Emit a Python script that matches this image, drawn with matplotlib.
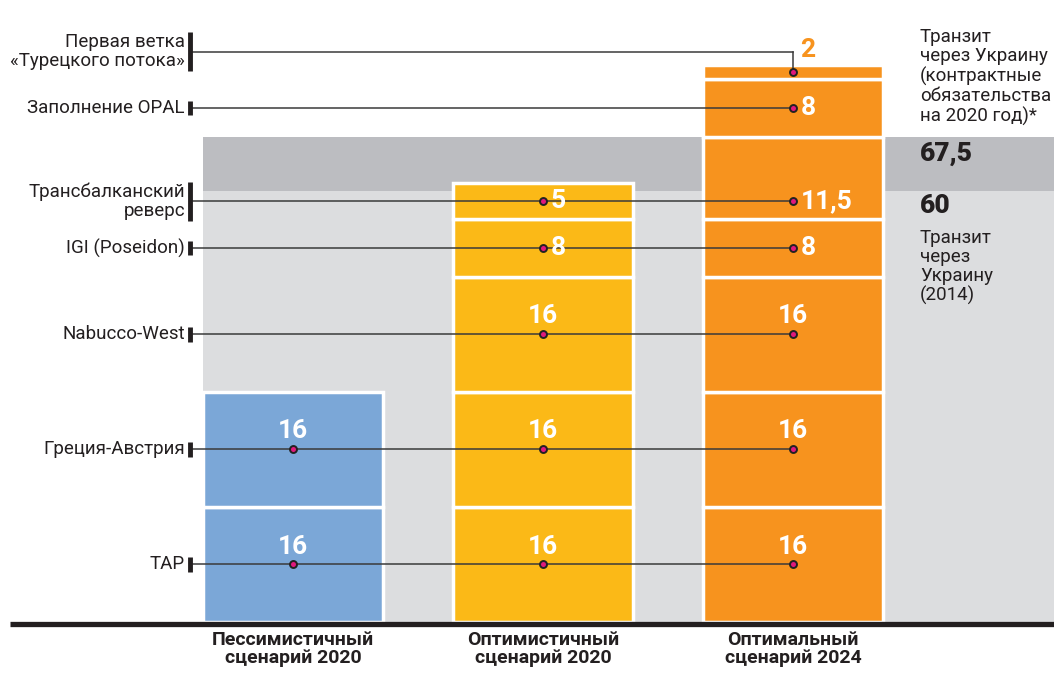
import matplotlib
matplotlib.use('Agg')
import matplotlib.pyplot as plt

plt.rcParams['font.family'] = ['Roboto', 'DejaVu Sans']

# данные
scenarios = ['Пессимистичный\nсценарий 2020', 'Оптимистичный\nсценарий 2020', 'Оптимальный\nсценарий 2024']
routes = ['TAP', 'Греция-Австрия', 'Nabucco-West', 'IGI (Poseidon)',
          'Трансбалканский\nреверс', 'Заполнение OPAL', 'Первая ветка\n«Турецкого потока»']
pessimistic = [16, 16, 0, 0, 0, 0, 0]
optimistic = [16, 16, 16, 8, 5, 0, 0]
optimal = [16, 16, 16, 8, 11.5, 8, 2]
transit_2014 = 60
transit_2020 = 67.5

volumes = [pessimistic, optimistic, optimal]
colors = ['#7ba7d7', '#fbb917', '#f7931e']
grey_light = '#dcdddf'
grey_dark = '#bcbdc1'
line_col = '#3a3a3a'
ink = '#231f20'

fig = plt.figure(figsize=(10.54, 6.74), dpi=100)
ax = fig.add_axes([0, 0, 1, 1])
ax.set_xlim(-1.172, 3.044)
ax.set_ylim(-7.23, 86.5)
ax.axis('off')

width = 0.72
x = list(range(len(scenarios)))

# фон: транзит через Украину
x0 = x[0] - width / 2
ax.fill_between([x0, 3.1], 0, transit_2014, color=grey_light, lw=0, zorder=0)
ax.fill_between([x0, 3.1], transit_2014, transit_2020, color=grey_dark, lw=0, zorder=0)

# столбцы
centers = {}
for i, vals in enumerate(volumes):
    bottom = 0
    for j, v in enumerate(vals):
        if v == 0:
            continue
        ax.bar(x[i], v, width, bottom=bottom, color=colors[i], edgecolor='white', lw=2.5, zorder=2)
        centers[(i, j)] = bottom + v / 2
        bottom += v

# линии-выноски
label_x = -0.432
tick_x = -0.412
for j, name in enumerate(routes):
    used = [i for i in x if volumes[i][j] > 0]
    first, last = used[0], used[-1]
    seg = volumes[first][j]
    if seg < 3:
        top = sum(volumes[first][:j + 1])
        ly = top + 1.8
    else:
        ly = centers[(first, j)]
    ax.plot([tick_x, x[last]], [ly, ly], color=line_col, lw=1.1, zorder=4)
    if seg < 3:
        ax.plot([x[last], x[last]], [ly, centers[(last, j)]], color=line_col, lw=1.1, zorder=4)
    h = 2.7 if '\n' in name else 1.0
    ax.plot([tick_x, tick_x], [ly - h, ly + h], color=ink, lw=3.5, solid_capstyle='butt', zorder=5)
    ax.text(label_x, ly, name, ha='right', va='center', fontsize=13.5, color=ink, linespacing=1.1)

    for i in used:
        v = volumes[i][j]
        txt = ('%g' % v).replace('.', ',')
        cy = centers[(i, j)]
        dot_y = cy if seg >= 6 or seg < 3 else ly
        ax.plot(x[i], dot_y, 'o', ms=5, mfc='#e0197d', mec='#222222', mew=1.4, zorder=6)
        if v >= 16:
            ax.text(x[i], cy + 2.5, txt, ha='center', va='center', fontsize=19,
                    fontweight='bold', color='white', zorder=6)
        elif seg < 3:
            ax.text(x[i] + 0.03, ly + 0.3, txt, ha='left', va='center', fontsize=19,
                    fontweight='bold', color=colors[i], zorder=6)
        else:
            ax.text(x[i] + 0.03, dot_y, txt, ha='left', va='center', fontsize=19,
                    fontweight='bold', color='white', zorder=6)

# базовая линия
ax.plot([-1.132, 3.1], [-0.3, -0.3], color=ink, lw=3.8, solid_capstyle='butt', zorder=7)

# подписи сценариев
for i, s in enumerate(scenarios):
    ax.text(x[i], -3.75, s, ha='center', va='center', fontsize=14, fontweight='bold',
            color=ink, linespacing=1.05)

# подписи справа
rx = 2.508
ax.text(rx, 86.5 - 28 / 7.19, 'Транзит\nчерез Украину\n(контрактные\nобязательства\nна 2020 год)*',
        ha='left', va='top', fontsize=13.5, color=ink, linespacing=1.1)
ax.text(rx, transit_2020 - 2.4, ('%g' % transit_2020).replace('.', ','), ha='left', va='center',
        fontsize=19, fontweight='black', color=ink)
ax.text(rx, transit_2014 - 2.2, '%g' % transit_2014, ha='left', va='center',
        fontsize=19, fontweight='black', color=ink)
ax.text(rx, transit_2014 - 5.4, 'Транзит\nчерез\nУкраину\n(2014)', ha='left', va='top',
        fontsize=13.5, color=ink, linespacing=1.05)

fig.savefig('out.png', dpi=100)
